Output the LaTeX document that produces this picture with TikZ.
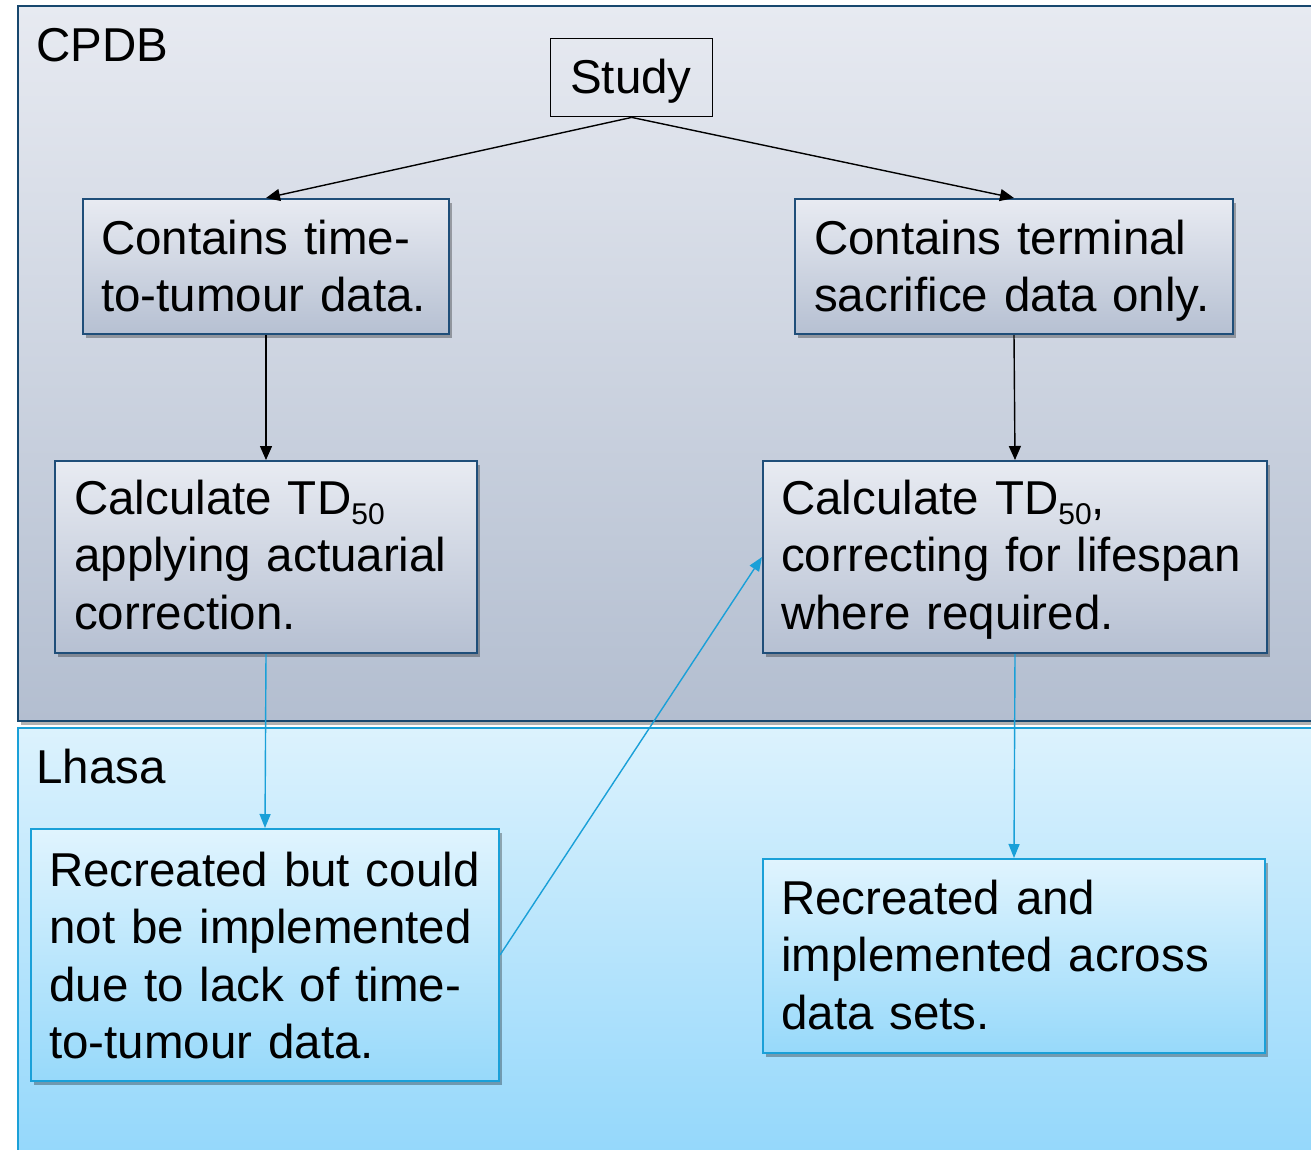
\documentclass[tikz,border=0pt]{standalone}
\usepackage{fontspec}
\setmainfont[WordSpace=0.85]{Liberation Sans}
\usetikzlibrary{arrows.meta,shadows}
\definecolor{navy}{HTML}{1F4E79}
\definecolor{framenavy}{HTML}{17476E}
\definecolor{lblue}{HTML}{1AA0D8}
\definecolor{cTop}{HTML}{E7EAF1}
\definecolor{cBot}{HTML}{B3BED0}
\definecolor{bTop}{HTML}{E8EBF2}
\definecolor{bBot}{HTML}{B6C0D2}
\definecolor{lTop}{HTML}{DCF2FD}
\definecolor{lBot}{HTML}{90D6FB}
\definecolor{eTop}{HTML}{E0F4FE}
\definecolor{eBot}{HTML}{97D9FA}
\tikzset{
  big/.style={font=\fontsize{47.5}{57.5}\selectfont},
  shad/.style={drop shadow={shadow xshift=3pt, shadow yshift=-4pt, opacity=0.3, fill=black}},
  cbox/.style={draw=navy, line width=2pt, top color=bTop, bottom color=bBot, shad, inner sep=0pt, anchor=north west},
  lbox/.style={draw=lblue, line width=2pt, top color=eTop, bottom color=eBot, shad, inner sep=0pt, anchor=north west},
  txt/.style={big, anchor=base west, inner sep=0pt, align=left, text width=560pt},
  blk/.style={draw=black, line width=1.4pt, -{Triangle[length=14pt,width=12pt]}},
  blu/.style={draw=lblue, line width=1.4pt, -{Triangle[length=14pt,width=11pt]}},
}
\newcommand{\subfifty}{\raisebox{-10pt}{\fontsize{30}{30}\selectfont 50}}
\begin{document}
\begin{tikzpicture}[x=1pt,y=1pt]
\useasboundingbox (0,0) rectangle (1311,-1149);
\fill[white] (0,0) rectangle (1311,-1149);
\clip (0,0) rectangle (1311,-1149);
% regions
\draw[draw=lblue, line width=2pt, top color=lTop, bottom color=lBot] (18,-728) rectangle (1340,-1180);
\draw[draw=framenavy, line width=2pt, top color=cTop, bottom color=cBot, shad] (18,-6) rectangle (1340,-721);
\node[big, anchor=base west, inner sep=0pt] (cpdb) at (36,-61) {CPDB};
\node[big, anchor=base west, inner sep=0pt] (lhasa) at (36,-783) {Lhasa};
% boxes
\node[draw=black, line width=1.4pt, minimum width=162pt, minimum height=78pt, inner sep=0pt, anchor=north west, big] (S) at (550,-38) {};
\node[big, anchor=base, inner sep=0pt] (St) at (631,-93) {Study};
\node[cbox, minimum width=366pt, minimum height=135pt] (A) at (82,-198) {};
\node[cbox, minimum width=438pt, minimum height=135pt] (B) at (794,-198) {};
\node[cbox, minimum width=422pt, minimum height=192pt] (C) at (54,-460) {};
\node[cbox, minimum width=504pt, minimum height=192pt] (D) at (762,-460) {};
\node[lbox, minimum width=468pt, minimum height=252pt] (E) at (30,-828) {};
\node[lbox, minimum width=502pt, minimum height=194pt] (F) at (762,-858) {};
% texts
\node[txt] (At) at (101,-254) {Contains time-\\to-tumour data.};
\node[txt] (Bt) at (814,-254) {Contains terminal\\sacrifice data only.};
\node[txt] (Ct) at (74,-514) {Calculate TD\subfifty\\applying actuarial\\correction.};
\node[txt] (Dt) at (781,-514) {Calculate TD\subfifty,\\correcting for lifespan\\where required.};
\node[txt] (Et) at (49,-886) {Recreated but could\\not be implemented\\due to lack of time-\\to-tumour data.};
\node[txt] (Ft) at (781,-914) {Recreated and\\implemented across\\data sets.};
% connectors
\draw[blk] (S.south) -- (A.north);
\draw[blk] (S.south) -- (B.north);
\draw[blk] (A.south) -- (C.north);
\draw[blk] (B.south) -- (D.north);
\draw[blu] (C.south) -- (E.north);
\draw[blu] (D.south) -- (F.north);
\draw[blu] (E.east) -- (D.west);
\end{tikzpicture}
\end{document}
